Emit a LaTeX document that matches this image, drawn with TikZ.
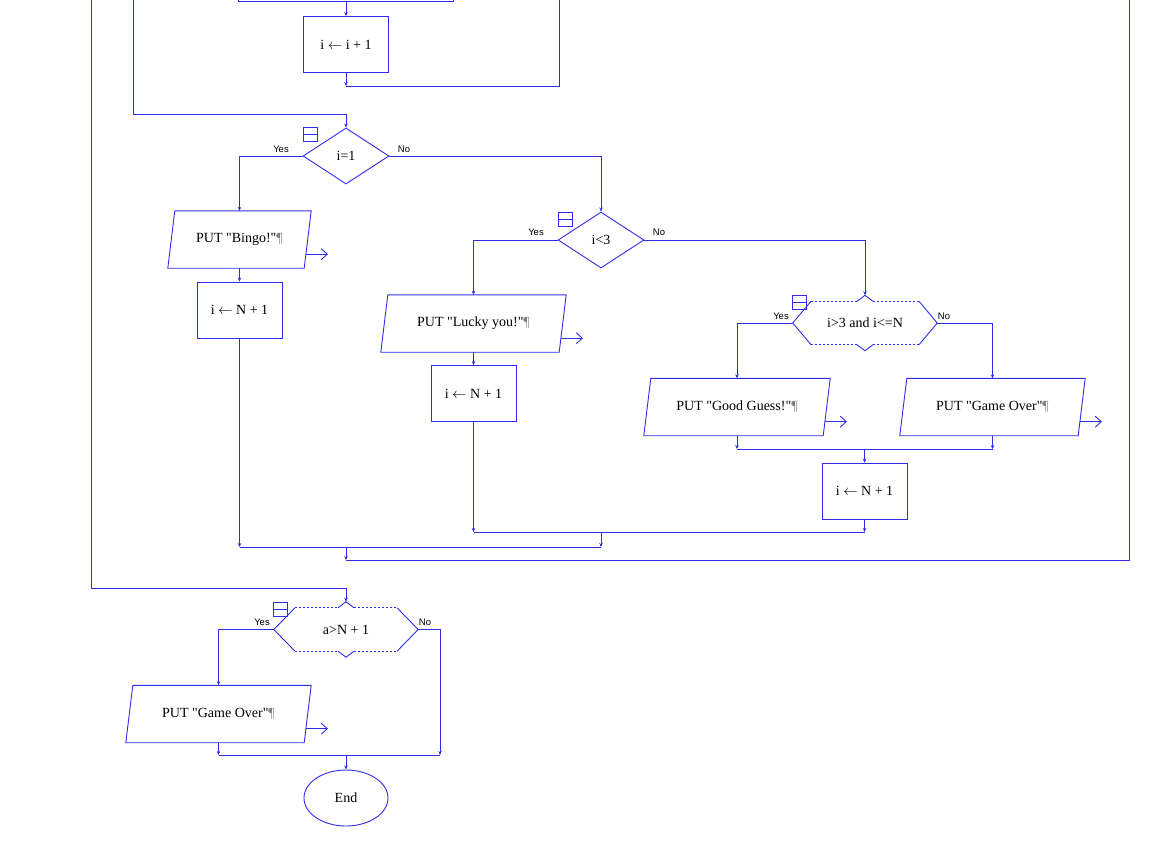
\documentclass[tikz,border=0pt]{standalone}
\usepackage{fontspec}
\setmainfont{Liberation Serif}[Ligatures=TeXOff]
\setsansfont{Liberation Sans}
\usetikzlibrary{arrows.meta,calc,shapes.geometric}
\definecolor{fc}{RGB}{45,45,235}

\begin{document}
\begin{tikzpicture}[x=1pt,y=-1pt,>={Stealth[length=4pt,width=3.5pt]},
  font=\fontsize{14}{16}\selectfont,
  wire/.style={fc, line width=0.9pt},
  dotline/.style={dash pattern=on 2pt off 2pt},
  proc/.style={draw=fc, line width=0.9pt, rectangle, minimum width=85, minimum height=56, inner sep=0},
  io/.style={rectangle, minimum width=178, minimum height=57, inner sep=0},
  dec/.style={draw=fc, line width=0.9pt, diamond, minimum width=86, minimum height=56, inner sep=0},
  casebox/.style={rectangle, minimum width=144, minimum height=43, inner sep=0},
  term/.style={draw=fc, line width=0.9pt, ellipse, minimum width=84, minimum height=56, inner sep=0},
  icon/.style={draw=fc, line width=0.9pt, minimum size=14, inner sep=0,
    path picture={\draw[wire] (path picture bounding box.west) -- (path picture bounding box.east);}},
  lab/.style={font=\fontsize{9.5}{10}\sffamily, inner sep=0},
  outarrow/.style={wire, -{Straight Barb[length=6pt,width=11pt]}}]
\useasboundingbox (0,0) rectangle (1149,844);

% loop body
\node(Inc)[proc] at (346,44.5) {i $\leftarrow$ i + 1};
\node(D1)[dec] at (346,156) {i=1};
\node(P1)[io, minimum width=136] at (239.5,239.5) {PUT "Bingo!"\textcolor{gray}{¶}};
\node(B1)[proc] at (239.5,310) {i $\leftarrow$ N + 1};
\node(D2)[dec] at (601,240) {i<3};
\node(P2)[io] at (473.5,323.5) {PUT "Lucky you!"\textcolor{gray}{¶}};
\node(B2)[proc] at (473.5,393.5) {i $\leftarrow$ N + 1};
\node(H3)[casebox] at (865,323) {i>3 and i<=N};
\node(P3)[io, minimum width=179] at (737,407) {PUT "Good Guess!"\textcolor{gray}{¶}};
\node(P4)[io] at (992.5,407) {PUT "Game Over"\textcolor{gray}{¶}};
\node(B3)[proc] at (864.5,491) {i $\leftarrow$ N + 1};
% after the loop
\node(H4)[casebox] at (346,629.5) {a>N + 1};
\node(P5)[io] at (218.5,714) {PUT "Game Over"\textcolor{gray}{¶}};
\node(E)[term] at (346,798) {End};

\node(I1)[icon] at (310.5,134.5) {};
\node(I2)[icon] at (565.5,219) {};
\node(I3)[icon] at (799.5,302.5) {};
\node(I4)[icon] at (280.5,609) {};

\node(Y1)[lab] at (281,149) {Yes};
\node(N1)[lab] at (404,149) {No};
\node(Y2)[lab] at (536,232) {Yes};
\node(N2)[lab] at (659,232) {No};
\node(Y3)[lab] at (781,316) {Yes};
\node(N3)[lab] at (944,316) {No};
\node(Y4)[lab] at (262,622) {Yes};
\node(N4)[lab] at (425,622) {No};

% parallelograms
\foreach \p in {P1,P2,P3,P4,P5}{
  \draw[wire] ($(\p.south west)+(-3.5,0)$) -- ($(\p.north west)+(3.5,0)$)
    -- ($(\p.north east)+(3.5,0)$) -- ($(\p.south east)+(-3.5,0)$) -- cycle;
  \draw[outarrow] ($(\p.south east)+(-1.8,-14)$) -- ++(22,0);
}

% case shapes
\foreach \h/\s in {H3/18,H4/21}{
  \draw[wire] (\h.west) -- ++(\s,-21.5) (\h.west) -- ++(\s,21.5)
    (\h.east) -- ++(-\s,-21.5) (\h.east) -- ++(-\s,21.5)
    ($(\h.north)+(-8,0)$) -- ++(8,-6) -- ++(8,6)
    ($(\h.south)+(-8,0)$) -- ++(8,6) -- ++(8,-6);
  \draw[wire,dotline] ($(\h.north west)+(\s,0)$) -- ($(\h.north)+(-8,0)$)
    ($(\h.north)+(8,0)$) -- ($(\h.north east)+(-\s,0)$)
    ($(\h.south west)+(\s,0)$) -- ($(\h.south)+(-8,0)$)
    ($(\h.south)+(8,0)$) -- ($(\h.south east)+(-\s,0)$);
}
\coordinate(H3in) at ($(H3.north)+(0,-6)$);
\coordinate(H4in) at ($(H4.north)+(0,-6)$);

% junctions
\coordinate(T1) at (238,1);
\coordinate(T2) at (453,1);
\coordinate(T3) at (346,1);
\coordinate(L1) at (346,86);
\coordinate(A1) at (346,114);
\coordinate(G1) at (737,449);
\coordinate(G2) at (992.5,449);
\coordinate(G3) at (864.5,449);
\coordinate(K1) at (473.5,532);
\coordinate(K2) at (864.5,532);
\coordinate(K3) at (601,532);
\coordinate(J1) at (239.5,547);
\coordinate(J2) at (601,547);
\coordinate(J3) at (346,547);
\coordinate(L2) at (346,560);
\coordinate(A2) at (346,588);
\coordinate(F1) at (218.5,755);
\coordinate(F2) at (440,755);
\coordinate(F3) at (346,755);

% top of the loop
\draw[wire] (238,-4) -- (T1) -- (T2) -- (453,-4);
\draw[wire,->] (T3) -- (Inc.north);
\draw[wire,->] (Inc.south) -- (L1);
\draw[wire] (L1) -- (559,86) -- (559,-4);
\draw[wire] (133,-4) |- (A1);
\draw[wire,->] (A1) -- (D1.north);

% branches
\draw[wire,->] (D1.west) -| (P1.north);
\draw[wire,->] (D1.east) -| (D2.north);
\draw[wire,->] (P1.south) -- (B1.north);
\draw[wire,->] (B1.south) -- (J1);
\draw[wire,->] (D2.west) -| (P2.north);
\draw[wire,->] (D2.east) -| (H3in);
\draw[wire,->] (P2.south) -- (B2.north);
\draw[wire,->] (B2.south) -- (K1);
\draw[wire,->] (H3.west) -| (P3.north);
\draw[wire,->] (H3.east) -| (P4.north);
\draw[wire,->] (P3.south) -- (G1);
\draw[wire,->] (P4.south) -- (G2);
\draw[wire] (G1) -- (G2);
\draw[wire,->] (G3) -- (B3.north);
\draw[wire,->] (B3.south) -- (K2);
\draw[wire] (K1) -- (K2);
\draw[wire,->] (K3) -- (J2);
\draw[wire] (J1) -- (J2);
\draw[wire,->] (J3) -- (L2);
\draw[wire] (L2) -- (1129,560) -- (1129,-4);

% after the loop
\draw[wire] (91,-4) |- (A2);
\draw[wire,->] (A2) -- (H4in);
\draw[wire,->] (H4.west) -| (P5.north);
\draw[wire,->] (H4.east) -| (F2);
\draw[wire,->] (P5.south) -- (F1);
\draw[wire] (F1) -- (F2);
\draw[wire,->] (F3) -- (E.north);
\end{tikzpicture}
\end{document}
